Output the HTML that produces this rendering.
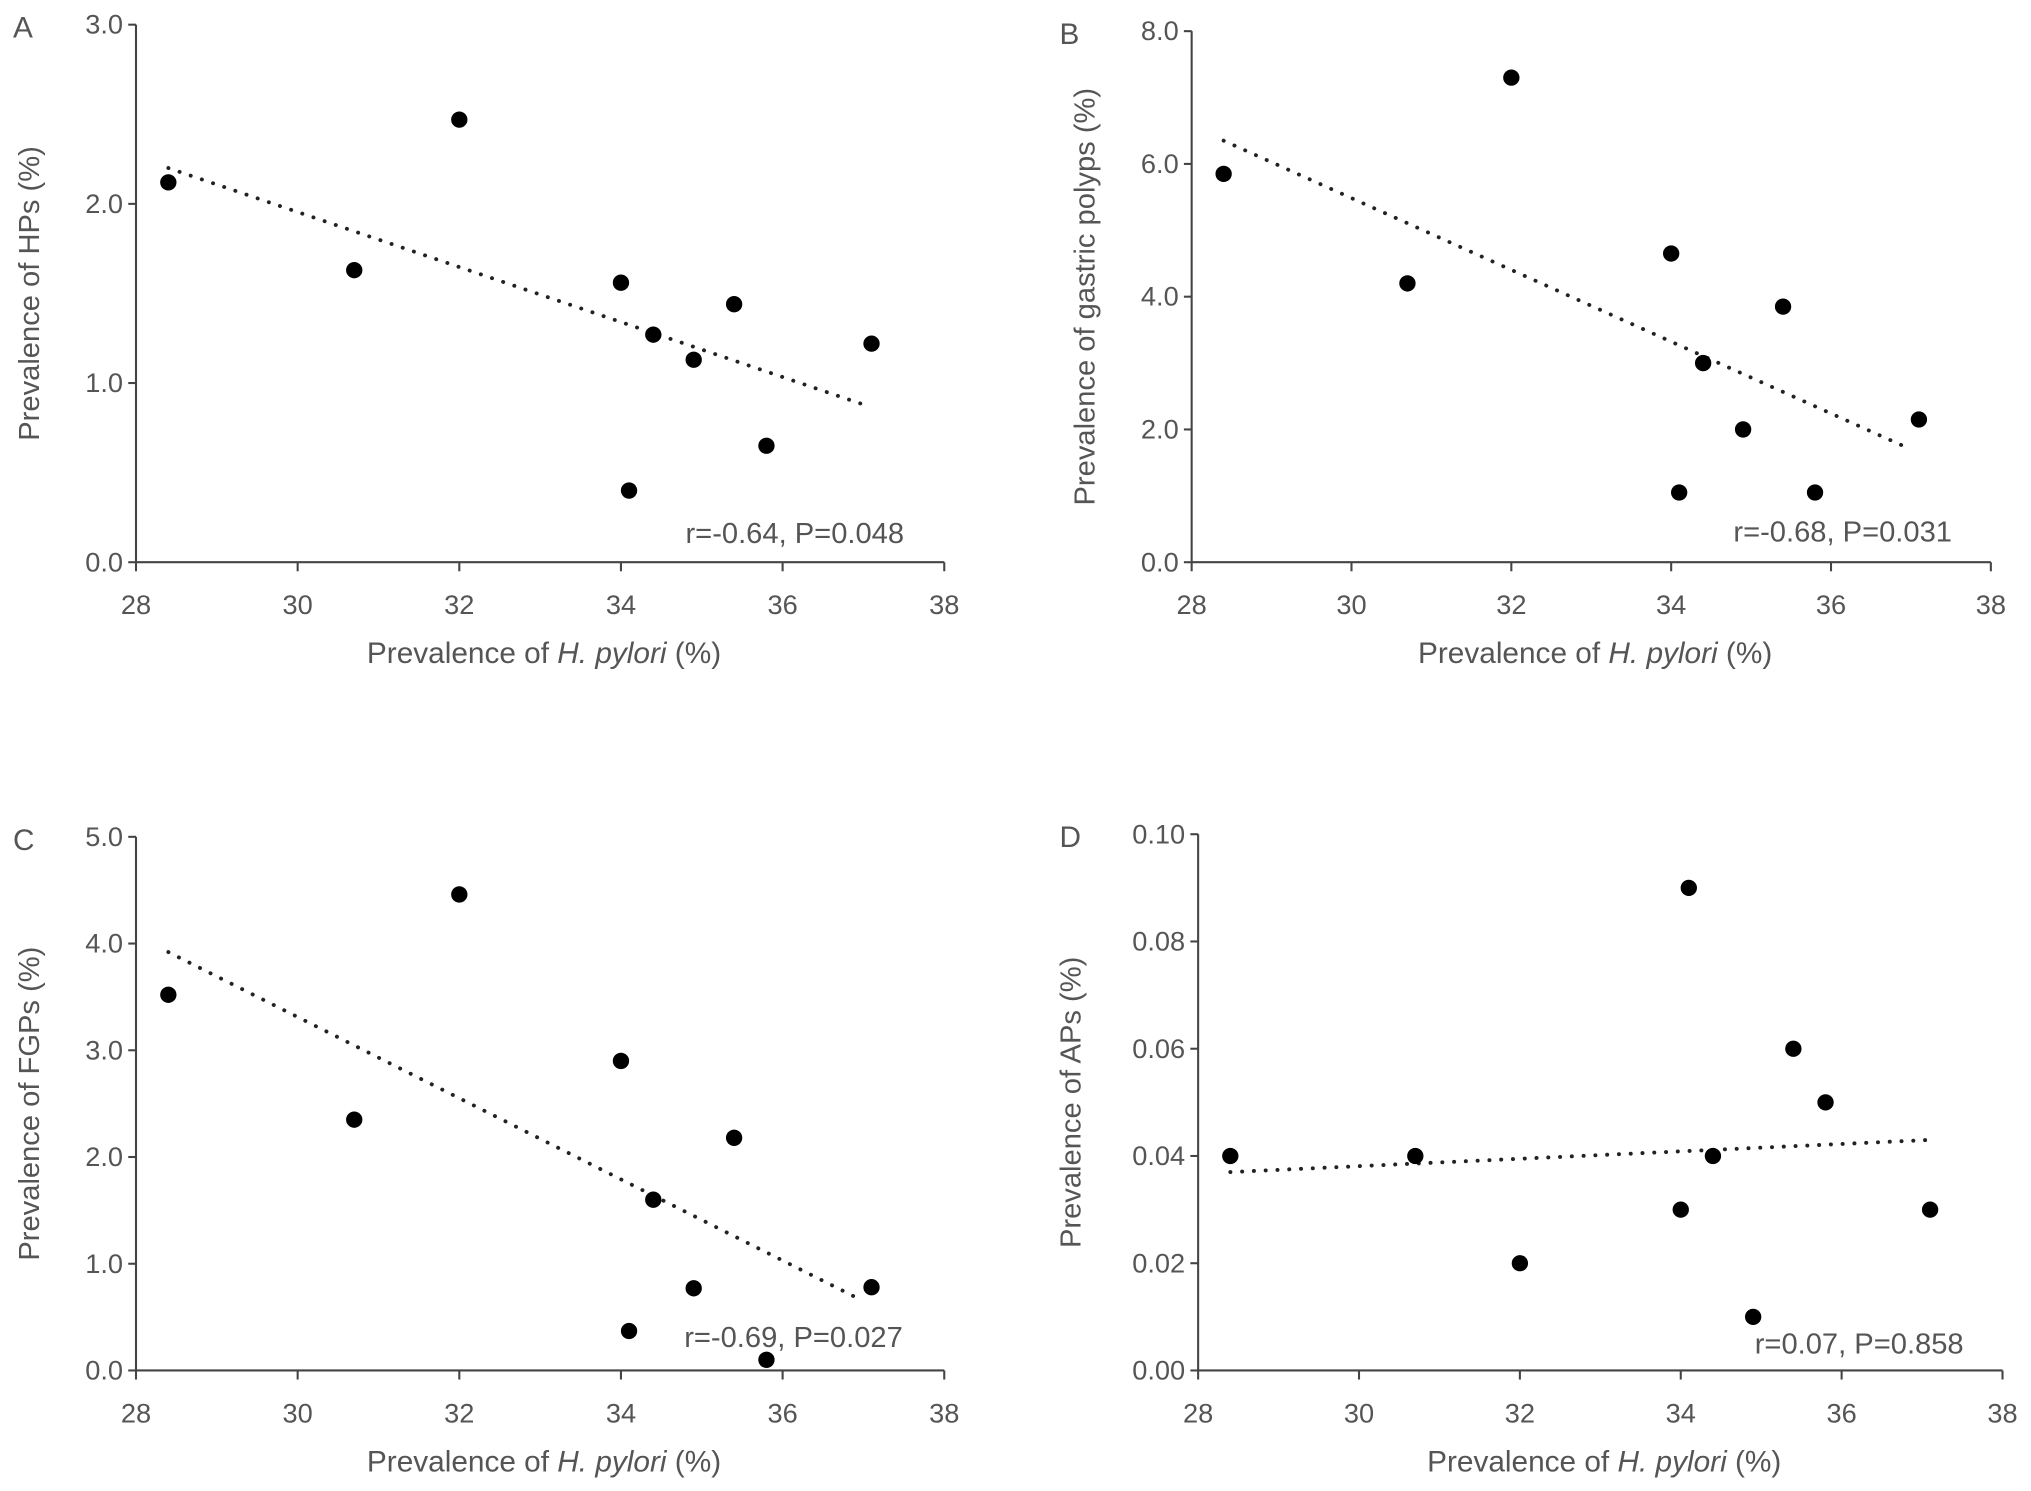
<!DOCTYPE html>
<html><head><meta charset="utf-8"><style>
html,body{margin:0;padding:0;background:#fff}
svg{display:block}
text{font-family:"Liberation Sans",sans-serif;fill:#555}
</style></head><body>
<svg id="chart" width="2031" height="1491" viewBox="0 0 1568 1151" xmlns="http://www.w3.org/2000/svg"></svg>
<script>
const xVals = [28.4, 30.7, 32.0, 34.0, 34.1, 34.4, 34.9, 35.4, 35.8, 37.1];
const yA = [2.12, 1.63, 2.47, 1.56, 0.40, 1.27, 1.13, 1.44, 0.65, 1.22];
const yB = [5.85, 4.2, 7.3, 4.65, 1.05, 3.0, 2.0, 3.85, 1.05, 2.15];
const yC = [3.52, 2.35, 4.46, 2.9, 0.37, 1.6, 0.77, 2.18, 0.1, 0.78];
const yD = [0.04, 0.04, 0.02, 0.03, 0.09, 0.04, 0.01, 0.06, 0.05, 0.03];
const xTicks = [28, 30, 32, 34, 36, 38];
const ticksA = ["0.0", "1.0", "2.0", "3.0"];
const ticksB = ["0.0", "2.0", "4.0", "6.0", "8.0"];
const ticksC = ["0.0", "1.0", "2.0", "3.0", "4.0", "5.0"];
const ticksD = ["0.00", "0.02", "0.04", "0.06", "0.08", "0.10"];
const trendA = [[28.4, 2.2], [37.0, 0.88]];
const trendB = [[28.4, 6.35], [37.0, 1.7]];
const trendC = [[28.4, 3.92], [37.0, 0.65]];
const trendD = [[28.4, 0.037], [37.1, 0.043]];

const NS = "http://www.w3.org/2000/svg";
const svg = document.getElementById("chart");
function mk(tag, attrs, parent, txt) {
  const e = document.createElementNS(NS, tag);
  for (const k in attrs) e.setAttribute(k, attrs[k]);
  if (txt !== undefined) e.textContent = txt;
  parent.appendChild(e);
  return e;
}
const panels = [
  {id:"a", letter:"A", x0:105, x1:729, y0:434, y1:19, ymax:3.0, ticks:ticksA, ys:yA, trend:trendA, ylab:"Prevalence of HPs (%)", stat:"r=-0.64, P=0.048", statX:698, statY:419, ylabX:30},
  {id:"b", letter:"B", x0:920, x1:1537, y0:434, y1:24, ymax:8.0, ticks:ticksB, ys:yB, trend:trendB, ylab:"Prevalence of gastric polyps (%)", stat:"r=-0.68, P=0.031", statX:1507, statY:418, ylabX:845},
  {id:"c", letter:"C", x0:105, x1:729, y0:1058, y1:646, ymax:5.0, ticks:ticksC, ys:yC, trend:trendC, ylab:"Prevalence of FGPs (%)", stat:"r=-0.69, P=0.027", statX:697, statY:1040, ylabX:30},
  {id:"d", letter:"D", x0:925, x1:1546, y0:1058, y1:644, ymax:0.10, ticks:ticksD, ys:yD, trend:trendD, ylab:"Prevalence of APs (%)", stat:"r=0.07, P=0.858", statX:1516, statY:1045, ylabX:834}
];
panels.forEach(p => {
  const g = mk("g", {}, svg);
  
  
  const sx = v => p.x0 + (v - 28) / 10 * (p.x1 - p.x0);
  const sy = v => p.y0 - v / p.ymax * (p.y0 - p.y1);
  const lt = mk("text", {x: p.letter === "A" || p.letter === "C" ? 10 : 818, y: p.y1 + 10, "font-size": 23}, g, p.letter);
  
  
  const ax = mk("g", {stroke:"#444", "stroke-width":1.6, fill:"none"}, g);
  
  
  mk("line", {x1:p.x0, y1:p.y1, x2:p.x0, y2:p.y0}, ax);
  mk("line", {x1:p.x0, y1:p.y0, x2:p.x1, y2:p.y0}, ax);
  p.ticks.forEach((t, i) => {
    const v = i * p.ymax / (p.ticks.length - 1);
    mk("line", {x1:p.x0 - 6, y1:sy(v), x2:p.x0, y2:sy(v)}, ax);
    const tt = mk("text", {x:p.x0 - 10, y:sy(v) + 7, "text-anchor":"end", "font-size":21}, g, t);
    
    
  });
  xTicks.forEach(t => {
    mk("line", {x1:sx(t), y1:p.y0, x2:sx(t), y2:p.y0 + 7}, ax);
    const tt = mk("text", {x:sx(t), y:p.y0 + 40, "text-anchor":"middle", "font-size":21}, g, t);
    
    
  });
  const xl = mk("text", {x:(p.x0 + p.x1) / 2 + 3, y:p.y0 + 78, "text-anchor":"middle", "font-size":23}, g);
  
  
  mk("tspan", {}, xl, "Prevalence of ");
  mk("tspan", {"font-style":"italic"}, xl, "H. pylori");
  mk("tspan", {}, xl, " (%)");
  const yl = mk("text", {x:0, y:0, "text-anchor":"middle", "font-size":22.5, transform:"translate(" + p.ylabX + "," + ((p.y0 + p.y1) / 2) + ") rotate(-90)"}, g, p.ylab);
  
  
  const tr = mk("line", {x1:sx(p.trend[0][0]), y1:sy(p.trend[0][1]), x2:sx(p.trend[1][0]), y2:sy(p.trend[1][1]), stroke:"#222", "stroke-width":3, "stroke-dasharray":"0.1 9", "stroke-linecap":"round"}, g);
  
  
  xVals.forEach((x, i) => {
    const c = mk("circle", {cx:sx(x), cy:sy(p.ys[i]), r:6.3, fill:"#000"}, g);
    
    
  });
  const st = mk("text", {x:p.statX, y:p.statY, "text-anchor":"end", "font-size":22.5}, g, p.stat);
  
  
});
</script>
</body></html>
